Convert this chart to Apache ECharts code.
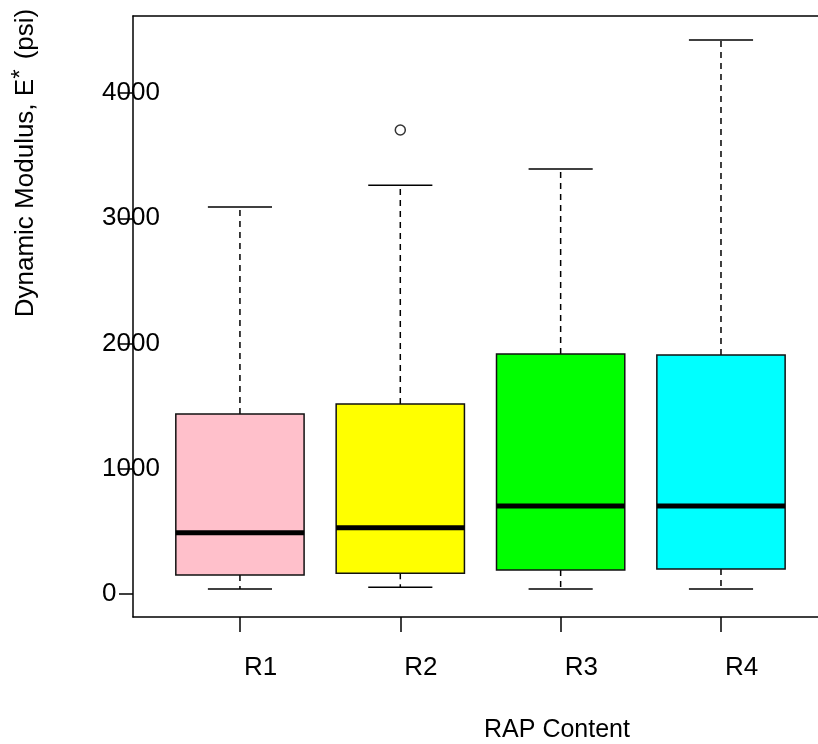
<!DOCTYPE html>
<html>
<head>
<meta charset="utf-8">
<script src="https://cdn.jsdelivr.net/npm/echarts@6/dist/echarts.min.js"></script>
<style>
  html, body { margin: 0; padding: 0; background: #fff; }
  #main { width: 818px; height: 744px; }
</style>
</head>
<body>
<div id="main"></div>
<script>
  // groups and their box statistics (psi)
  let groups = ['R1', 'R2', 'R3', 'R4'];
  let lowWhisker = [40, 53, 40, 40];
  let q1 = [152, 165, 192, 200];
  let median = [489, 529, 703, 703];
  let q3 = [1437, 1517, 1916, 1908];
  let highWhisker = [3090, 3263, 3393, 4423];
  let outliers = [[2, 3705]];
  let yTicks = [0, 1000, 2000, 3000, 4000];
  let boxColors = ['#FFC0CB', '#FFFF00', '#00FF00', '#00FFFF'];

  let font = '"Liberation Sans", Arial, sans-serif';

  let boxData = groups.map((g, i) => [i + 1, lowWhisker[i], q1[i], median[i], q3[i], highWhisker[i]]);

  let chart = echarts.init(document.getElementById('main'));

  function renderBox(params, api) {
    let x = api.value(0);
    let lo = api.value(1), b1 = api.value(2), md = api.value(3), b3 = api.value(4), hi = api.value(5);
    let half = 0.4, staple = 0.2;
    let tl = api.coord([x - half, b3]);
    let br = api.coord([x + half, b1]);
    let mid = api.coord([x, 0])[0];
    let line = { stroke: '#000', lineWidth: 1.5 };
    let dash = { stroke: '#000', lineWidth: 1.5, lineDash: [6, 5] };
    let yLo = api.coord([x, lo])[1], yHi = api.coord([x, hi])[1];
    let sl = api.coord([x - staple, 0])[0], sr = api.coord([x + staple, 0])[0];
    let yMd = api.coord([x, md])[1];
    return {
      type: 'group',
      children: [
        { type: 'line', shape: { x1: mid, y1: tl[1], x2: mid, y2: yHi }, style: dash },
        { type: 'line', shape: { x1: mid, y1: br[1], x2: mid, y2: yLo }, style: dash },
        { type: 'line', shape: { x1: sl, y1: yHi, x2: sr, y2: yHi }, style: line },
        { type: 'line', shape: { x1: sl, y1: yLo, x2: sr, y2: yLo }, style: line },
        {
          type: 'rect',
          shape: { x: tl[0], y: tl[1], width: br[0] - tl[0], height: br[1] - tl[1] },
          style: { fill: boxColors[params.dataIndex], stroke: '#111', lineWidth: 1.5 }
        },
        { type: 'line', shape: { x1: tl[0], y1: yMd, x2: br[0], y2: yMd }, style: { stroke: '#000', lineWidth: 5 } }
      ]
    };
  }

  let xMin = 0.333, xMax = 4.605;

  let option = {
    backgroundColor: '#fff',
    animation: false,
    grid: { left: 133, right: 0, top: 16, bottom: 127 },
    xAxis: [
      {
        type: 'value',
        min: xMin,
        max: xMax,
        axisLine: { show: true, onZero: false, lineStyle: { color: '#000', width: 1.5 } },
        splitLine: { show: false },
        axisTick: { show: true, customValues: [1, 2, 3, 4], length: 15, lineStyle: { color: '#000', width: 1.5 } },
        axisLabel: {
          customValues: [1, 2, 3, 4],
          formatter: v => groups[Math.round(v) - 1],
          align: 'left',
          padding: [0, 0, 0, 4],
          margin: 38,
          fontSize: 26,
          color: '#000',
          fontFamily: font
        }
      },
      {
        // top edge of the plot frame
        type: 'value',
        position: 'top',
        min: xMin,
        max: xMax,
        axisLine: { show: true, onZero: false, lineStyle: { color: '#000', width: 1.5 } },
        axisTick: { show: false },
        axisLabel: { show: false },
        splitLine: { show: false }
      }
    ],
    yAxis: {
      type: 'value',
      min: -184,
      max: 4615,
      axisLine: { show: true, onZero: false, lineStyle: { color: '#000', width: 1.5 } },
      splitLine: { show: false },
      axisTick: { show: true, customValues: yTicks, length: 14, lineStyle: { color: '#000', width: 1.5 } },
      axisLabel: {
        customValues: yTicks,
        formatter: v => String(v),
        align: 'left',
        verticalAlign: 'middle',
        padding: [7, 0, 0, 0],
        margin: 31,
        fontSize: 26,
        color: '#000',
        fontFamily: font
      }
    },
    graphic: [
      {
        type: 'text',
        x: 26, y: 163,
        rotation: Math.PI / 2,
        style: {
          text: 'Dynamic Modulus, E{sup|*} (psi)',
          fontSize: 26,
          fontFamily: font,
          fill: '#000',
          align: 'center',
          verticalAlign: 'middle',
          rich: {
            sup: { fontSize: 24, fontFamily: font, fill: '#000', padding: [0, 3, 10, 0] }
          }
        }
      },
      {
        type: 'text',
        x: 557, y: 730,
        style: {
          text: 'RAP Content',
          fontSize: 25,
          fontFamily: font,
          fill: '#000',
          align: 'center',
          verticalAlign: 'middle'
        }
      }
    ],
    series: [
      {
        type: 'custom',
        renderItem: renderBox,
        data: boxData,
        clip: false,
        z: 2
      },
      {
        type: 'scatter',
        data: outliers,
        symbol: 'circle',
        symbolSize: 10,
        itemStyle: { color: '#fff', borderColor: '#000', borderWidth: 1.5 },
        z: 3
      }
    ]
  };

  chart.setOption(option);
</script>
</body>
</html>
